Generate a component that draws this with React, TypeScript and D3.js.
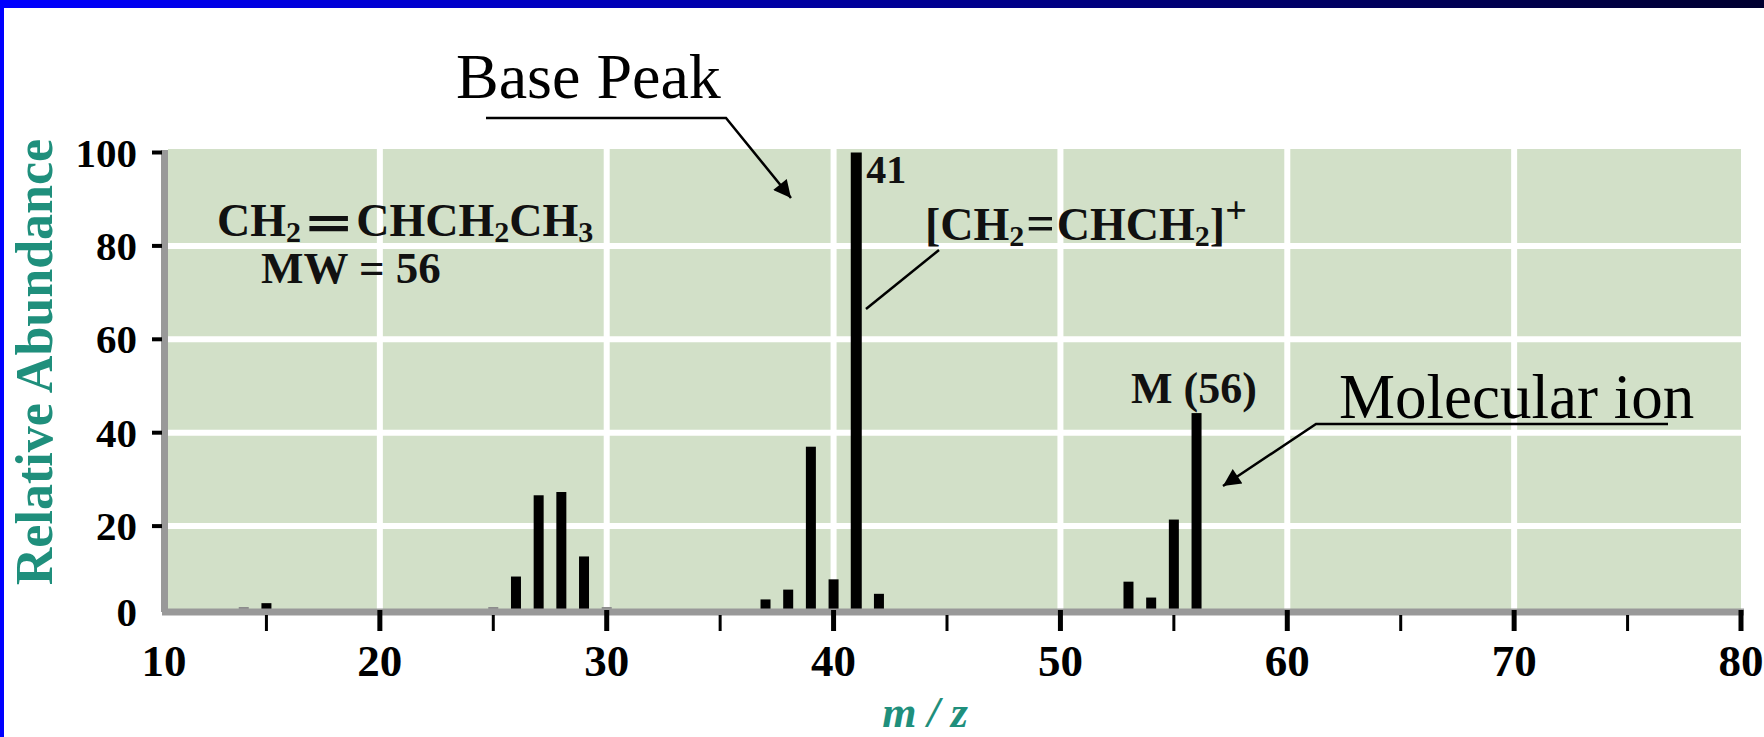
import { useEffect, useRef } from 'react'
import * as d3 from 'd3'

// 1-butene mass spectrum
const mzValues = [14, 15, 25, 26, 27, 28, 29, 30, 37, 38, 39, 40, 41, 42, 53, 54, 55, 56]
const abundances = [1, 3.5, 1, 9.2, 26.6, 27.3, 13.5, 1, 4.3, 6.4, 37, 8.6, 100, 5.5, 8.1, 4.7, 21.4, 44.2]
const xMajorTicks = [10, 20, 30, 40, 50, 60, 70, 80]
const xMinorTicks = [15, 25, 35, 45, 55, 65, 75]
const yTicks = [0, 20, 40, 60, 80, 100]

const W = 1764
const H = 737
const serif = '"Liberation Serif", "Times New Roman", serif'
const teal = '#1f8f7c'

type TextSel = d3.Selection<SVGTextElement, unknown, null, undefined>

export default function App() {
  const ref = useRef<SVGSVGElement>(null)

  useEffect(() => {
    if (!ref.current) return
    const svg = d3.select(ref.current)
    svg.selectAll('*').remove()

    const plot = { left: 168, right: 1741, top: 149 }
    const x = d3.scaleLinear().domain([10, 80]).range([153, 1741])
    const y = d3.scaleLinear().domain([0, 100]).range([619.5, 152.5])
    const axisY = 612 // the drawn axis sits a bit above the true zero
    const base = axisY - 3

    // frame
    const defs = svg.append('defs')
    const grad = defs.append('linearGradient').attr('id', 'topbar').attr('x1', 0).attr('x2', 1).attr('y1', 0).attr('y2', 0)
    grad.append('stop').attr('offset', '0%').attr('stop-color', '#0000ff')
    grad.append('stop').attr('offset', '100%').attr('stop-color', '#000030')
    svg.append('rect').attr('width', W).attr('height', H).attr('fill', '#fff')
    svg.append('rect').attr('width', W).attr('height', 8).attr('fill', 'url(#topbar)')
    svg.append('rect').attr('width', 4).attr('height', H).attr('fill', '#0000ff')

    const arrow = defs.append('marker').attr('id', 'arrow').attr('viewBox', '0 0 10 10')
      .attr('refX', 10).attr('refY', 5).attr('markerWidth', 9).attr('markerHeight', 7)
      .attr('markerUnits', 'strokeWidth').attr('orient', 'auto')
    arrow.append('path').attr('d', 'M0,0 L10,5 L0,10 Z').attr('fill', '#000')

    // plot background + grid
    svg.append('rect')
      .attr('x', plot.left).attr('y', plot.top)
      .attr('width', plot.right - plot.left).attr('height', base - plot.top)
      .attr('fill', '#d2e0c8')

    svg.append('g').selectAll('line')
      .data(yTicks.filter((d) => d > 0 && d < 100))
      .join('line')
      .attr('x1', plot.left).attr('x2', plot.right)
      .attr('y1', (d) => y(d)).attr('y2', (d) => y(d))
      .attr('stroke', '#fff').attr('stroke-width', 6)

    svg.append('g').selectAll('line')
      .data(xMajorTicks.filter((d) => d > 10 && d < 80))
      .join('line')
      .attr('x1', (d) => x(d)).attr('x2', (d) => x(d))
      .attr('y1', plot.top).attr('y2', base)
      .attr('stroke', '#fff').attr('stroke-width', 6)

    // peaks
    svg.append('g').selectAll('rect')
      .data(mzValues.map((m, i) => ({ m, v: abundances[i] })))
      .join('rect')
      .attr('x', (d) => x(d.m) - (d.v === 100 ? 5.5 : 5))
      .attr('width', (d) => (d.v === 100 ? 11 : 10))
      .attr('y', (d) => Math.min(y(d.v), base - 2))
      .attr('height', (d) => base - Math.min(y(d.v), base - 2))
      .attr('fill', (d) => (d.v < 2 ? '#8c8c8c' : '#000'))

    // axes
    svg.append('line').attr('x1', plot.left - 6).attr('x2', plot.right + 3)
      .attr('y1', axisY).attr('y2', axisY).attr('stroke', '#999').attr('stroke-width', 7)
    svg.append('line').attr('x1', plot.left - 3.5).attr('x2', plot.left - 3.5)
      .attr('y1', plot.top + 1).attr('y2', axisY).attr('stroke', '#999').attr('stroke-width', 7)

    svg.append('g').selectAll('line')
      .data(xMajorTicks.filter((d) => d > 10))
      .join('line')
      .attr('x1', (d) => x(d)).attr('x2', (d) => x(d))
      .attr('y1', axisY - 2).attr('y2', 631)
      .attr('stroke', '#000').attr('stroke-width', 5)
    svg.append('g').selectAll('line')
      .data(xMinorTicks)
      .join('line')
      .attr('x1', (d) => x(d)).attr('x2', (d) => x(d))
      .attr('y1', axisY + 3).attr('y2', 631)
      .attr('stroke', '#000').attr('stroke-width', 3)

    svg.append('g').selectAll('text')
      .data(xMajorTicks)
      .join('text')
      .attr('x', (d) => Math.max(x(d), plot.left - 4))
      .attr('y', 676)
      .attr('text-anchor', 'middle')
      .attr('font-family', serif).attr('font-weight', 'bold').attr('font-size', 45)
      .text((d) => d)

    svg.append('g').selectAll('line')
      .data(yTicks.filter((d) => d > 0))
      .join('line')
      .attr('x1', 152).attr('x2', plot.left - 6)
      .attr('y1', (d) => y(d)).attr('y2', (d) => y(d))
      .attr('stroke', '#000').attr('stroke-width', 4)

    svg.append('g').selectAll('text')
      .data(yTicks)
      .join('text')
      .attr('x', 137)
      .attr('y', (d) => (d === 0 ? axisY : y(d)) + 14)
      .attr('text-anchor', 'end')
      .attr('font-family', serif).attr('font-weight', 'bold').attr('font-size', 41)
      .text((d) => d)

    // axis titles
    svg.append('text')
      .attr('transform', `translate(52, 362) rotate(-90)`)
      .attr('text-anchor', 'middle')
      .attr('font-family', serif).attr('font-weight', 'bold').attr('font-size', 52)
      .attr('fill', teal)
      .text('Relative Abundance')

    svg.append('text')
      .attr('x', 925).attr('y', 727)
      .attr('text-anchor', 'middle')
      .attr('font-family', serif).attr('font-weight', 'bold').attr('font-style', 'italic').attr('font-size', 44)
      .attr('fill', teal)
      .text('m / z')

    // formula labels
    const bold = (t: TextSel, size: number) =>
      t.attr('font-family', serif).attr('font-weight', 'bold').attr('font-size', size).attr('fill', '#111')
    // parts: [text, kind, font-size, dx, font-family]
    const addParts = (t: TextSel, parts: [string, string, number?, number?, string?][]) => {
      let shift = 0
      parts.forEach(([s, kind, size, dx, family]) => {
        const sp = t.append('tspan').text(s)
        const target = kind === 'sub' ? 6 : kind === 'sup' ? -17 : kind === 'low' ? 9 : 0
        if (target !== shift) sp.attr('dy', target - shift)
        shift = target
        if (kind === 'sub' || kind === 'sup') sp.attr('font-size', size || 30)
        else if (size) sp.attr('font-size', size)
        if (dx) sp.attr('dx', dx)
        if (family) sp.attr('font-family', family).attr('font-weight', 'normal')
      })
    }

    const f1 = bold(svg.append('text').attr('x', 217).attr('y', 236), 46)
    addParts(f1, [
      ['CH', ''], ['2', 'sub'], ['\u2550', 'low', 62, 9, '"DejaVu Sans", sans-serif'],
      ['CHCH', '', 0, 9], ['2', 'sub'], ['CH', ''], ['3', 'sub'],
    ])

    bold(svg.append('text').attr('x', 261).attr('y', 283), 45).text('MW = 56')

    bold(svg.append('text').attr('x', x(41) + 10).attr('y', 183), 40).text('41')

    const f2 = bold(svg.append('text').attr('x', 925).attr('y', 240), 46)
    addParts(f2, [['[CH', ''], ['2', 'sub'], ['=', '', 50, 2], ['CHCH', '', 0, 2], ['2', 'sub'], [']', ''], ['+', 'sup', 38]])

    bold(svg.append('text').attr('x', 1131).attr('y', 403), 44).text('M (56)')

    svg.append('line').attr('x1', 939).attr('y1', 250).attr('x2', 866).attr('y2', 309)
      .attr('stroke', '#000').attr('stroke-width', 2.5)

    // callouts
    svg.append('text').attr('x', 456).attr('y', 98)
      .attr('font-family', serif).attr('font-size', 64).text('Base Peak')
    svg.append('path').attr('d', 'M486,118 L726,118 L791,198')
      .attr('fill', 'none').attr('stroke', '#000').attr('stroke-width', 2.5)
      .attr('marker-end', 'url(#arrow)')

    svg.append('text').attr('x', 1339).attr('y', 418)
      .attr('font-family', serif).attr('font-size', 63).text('Molecular ion')
    svg.append('path').attr('d', 'M1668,424 L1316,424 L1223,486')
      .attr('fill', 'none').attr('stroke', '#000').attr('stroke-width', 2.5)
      .attr('marker-end', 'url(#arrow)')
  }, [])

  return (
    <svg ref={ref} width={W} height={H} style={{ position: 'absolute', left: 0, top: 0, display: 'block' }} />
  )
}
